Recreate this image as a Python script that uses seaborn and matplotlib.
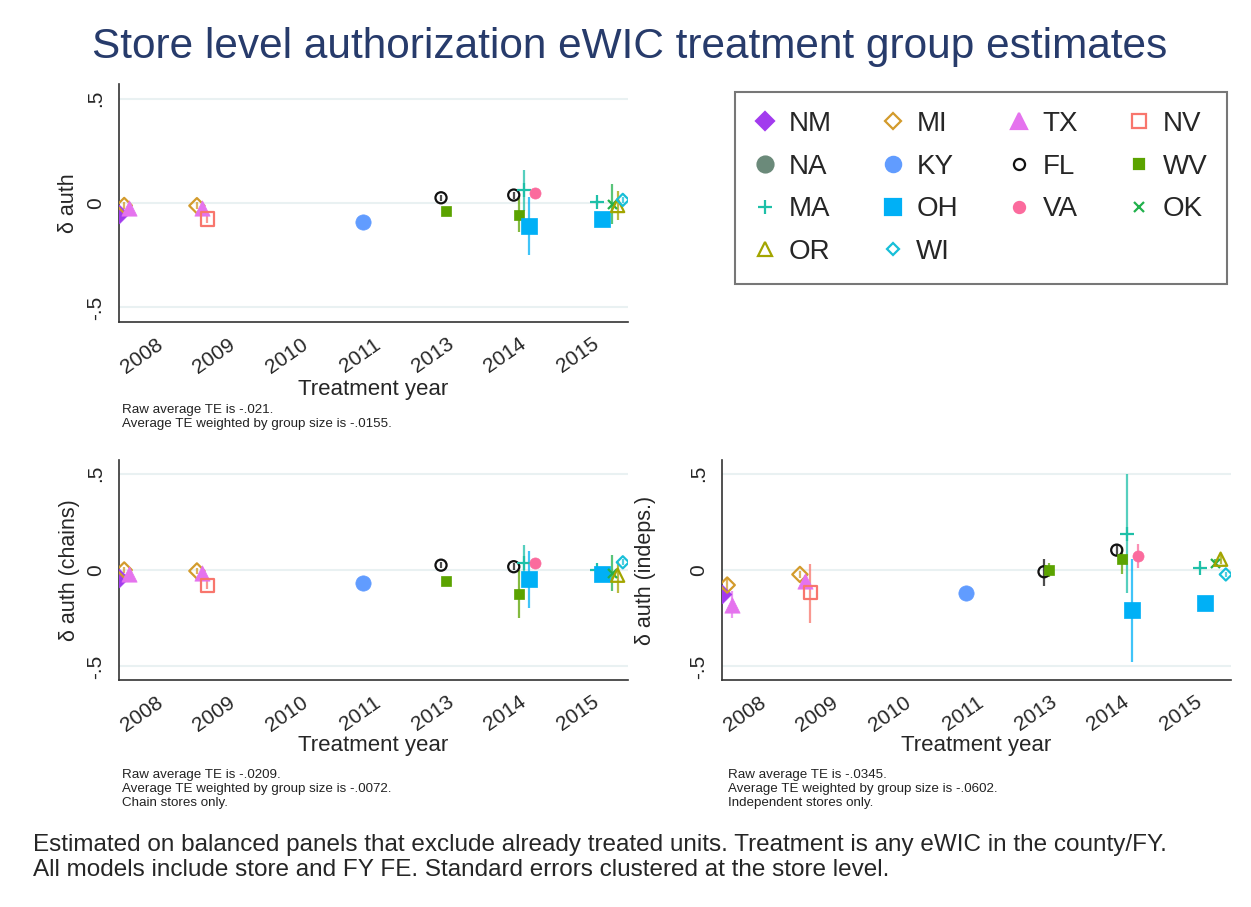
import matplotlib
matplotlib.use("Agg")
import matplotlib.pyplot as plt
from matplotlib.lines import Line2D
import pandas as pd
import seaborn as sns

# treatment year categories and states (legend order, also the dodge order)
years = ["2008", "2009", "2010", "2011", "2013", "2014", "2015"]
states = ["NM", "MI", "TX", "NV", "NA", "KY", "FL", "WV", "MA", "OH", "VA", "OK", "OR", "WI"]

# one row per state x treatment-year group
row_state = ["NM", "MI", "TX", "MI", "TX", "NV", "KY", "FL", "WV", "FL",
             "WV", "MA", "OH", "VA", "MA", "OH", "OK", "OR", "WI"]
row_year = ["2008", "2008", "2008", "2009", "2009", "2009", "2011", "2013", "2013", "2014",
            "2014", "2014", "2014", "2014", "2015", "2015", "2015", "2015", "2015"]

# all stores
all_est = [-0.055, -0.012, -0.024, -0.013, -0.024, -0.077, -0.090, 0.025, -0.037, 0.038,
           -0.058, 0.060, -0.110, 0.050, 0.003, -0.075, -0.005, -0.012, 0.015]
all_lo = [-0.070, -0.030, -0.040, -0.030, -0.040, -0.097, -0.100, 0.010, -0.045, 0.020,
          -0.140, -0.040, -0.250, 0.035, -0.010, -0.090, -0.100, -0.080, 0.000]
all_hi = [-0.040, 0.005, -0.010, 0.005, -0.010, -0.057, -0.080, 0.040, -0.030, 0.055,
          0.030, 0.160, 0.030, 0.065, 0.015, -0.060, 0.090, 0.057, 0.030]

# chain stores
chain_est = [-0.040, 0.000, -0.020, -0.005, -0.015, -0.079, -0.068, 0.025, -0.058, 0.017,
             -0.125, 0.035, -0.045, 0.036, 0.000, -0.020, -0.015, -0.027, 0.040]
chain_lo = [-0.055, -0.015, -0.035, -0.020, -0.030, -0.099, -0.078, 0.010, -0.066, 0.000,
            -0.250, -0.060, -0.198, 0.020, -0.012, -0.035, -0.110, -0.120, 0.025]
chain_hi = [-0.025, 0.015, -0.005, 0.010, 0.000, -0.059, -0.058, 0.040, -0.050, 0.034,
            0.000, 0.130, 0.100, 0.052, 0.012, -0.005, 0.080, 0.040, 0.055]

# independent stores
indep_est = [-0.124, -0.078, -0.180, -0.023, -0.057, -0.118, -0.118, -0.009, 0.000, 0.103,
             0.056, 0.186, -0.209, 0.073, 0.012, -0.171, 0.038, 0.056, -0.023]
indep_lo = [-0.160, -0.110, -0.250, -0.040, -0.090, -0.275, -0.128, -0.084, -0.035, 0.070,
            -0.019, -0.118, -0.476, 0.012, 0.000, -0.185, 0.020, 0.030, -0.035]
indep_hi = [-0.090, -0.045, -0.110, -0.005, -0.025, 0.030, -0.108, 0.056, 0.035, 0.135,
            0.117, 0.497, 0.058, 0.134, 0.024, -0.157, 0.056, 0.080, -0.011]

ylabels = ["δ auth", "δ auth (chains)", "δ auth (indeps.)"]
notes = [["Raw average TE is -.021.", "Average TE weighted by group size is -.0155."],
         ["Raw average TE is -.0209.", "Average TE weighted by group size is -.0072.",
          "Chain stores only."],
         ["Raw average TE is -.0345.", "Average TE weighted by group size is -.0602.",
          "Independent stores only."]]
title = "Store level authorization eWIC treatment group estimates"
footnote = ["Estimated on balanced panels that exclude already treated units. Treatment is any eWIC in the county/FY.",
            "All models include store and FY FE. Standard errors clustered at the store level."]

# marker style per state: (marker, colour, hollow, markersize)
style = {
    "NM": ("D", "#a23bee", False, 9.5),
    "MI": ("D", "#d39b2c", True, 7.8),
    "TX": ("^", "#e573ee", False, 11.0),
    "NV": ("s", "#f8766d", True, 9.5),
    "NA": ("o", "#6b8a7a", False, 11.5),
    "KY": ("o", "#619cff", False, 11.0),
    "FL": ("o", "#111111", True, 8.0),
    "WV": ("s", "#5ba300", False, 7.5),
    "MA": ("+", "#1ec0a8", False, 10.5),
    "OH": ("s", "#00b0f6", False, 11.5),
    "VA": ("o", "#fb6b9d", False, 8.0),
    "OK": ("x", "#22b14c", False, 6.5),
    "OR": ("^", "#a3a500", True, 9.5),
    "WI": ("D", "#17bfd8", True, 6.2),
}

sns.set_style("white")
plt.rcParams["font.family"] = ["Liberation Sans", "DejaVu Sans"]

W, H = 1251, 907
fig = plt.figure(figsize=(W / 100, H / 100), dpi=100)


def rect(l, t, r, b):
    return [l / W, 1 - b / H, (r - l) / W, (b - t) / H]


layout = [
    dict(box=(119, 84, 628, 322), ylab_x=69, xlab_y=390, note_x=122, note_y=410),
    dict(box=(119, 460, 628, 680), ylab_x=69, xlab_y=745, note_x=122, note_y=775),
    dict(box=(722, 460, 1231, 680), ylab_x=645, xlab_y=745, note_x=728, note_y=775),
]
series = [(all_est, all_lo, all_hi), (chain_est, chain_lo, chain_hi),
          (indep_est, indep_lo, indep_hi)]

for k, (lay, (est, lo, hi)) in enumerate(zip(layout, series)):
    l, t, r, b = lay["box"]
    ax = fig.add_axes(rect(l, t, r, b))
    df = pd.DataFrame({"state": row_state, "year": row_year, "est": est, "lo": lo, "hi": hi})
    # dodge each state inside its year group
    df["x"] = [years.index(y) + (states.index(s) - 7) / 14 for s, y in zip(df.state, df.year)]

    for s in states:
        sub = df[df.state == s]
        if sub.empty:
            continue
        m, c, hollow, ms = style[s]
        ax.vlines(sub.x, sub.lo, sub.hi, color=c, lw=1.6, alpha=0.75, zorder=2)
        kw = dict(marker=m, s=ms ** 2, ax=ax, zorder=3, legend=False)
        if m in "+x":
            kw.update(color=c, edgecolor=None, linewidth=1.6)
        elif hollow:
            kw.update(color=c, facecolor="none", edgecolor=c, linewidth=1.6)
        else:
            kw.update(color=c, edgecolor=c, linewidth=0.5)
        sns.scatterplot(data=sub, x="x", y="est", **kw)

    ax.set_xlim(-0.5, 6.5)
    ax.set_ylim(-0.57, 0.57)
    ax.set_xticks(range(len(years)))
    ax.set_xticklabels(years, rotation=35, ha="right", va="top", rotation_mode="anchor", fontsize=15)
    ax.set_yticks([-0.5, 0, 0.5])
    ax.set_yticklabels(["-.5", "0", ".5"], rotation=90, va="center", fontsize=15)
    ax.tick_params(axis="both", direction="out", length=7, width=1, color="#333333", pad=3)
    ax.tick_params(axis="x", pad=2)
    for y in [-0.5, 0, 0.5]:
        ax.axhline(y, color="#e9f1f2", lw=1.5, zorder=0)
    for side in ["top", "right"]:
        ax.spines[side].set_visible(False)
    for side in ["left", "bottom"]:
        ax.spines[side].set_color("#333333")
        ax.spines[side].set_linewidth(1.2)
    ax.set_xlabel("")
    ax.set_ylabel("")

    fig.text(((l + r) / 2) / W, 1 - lay["xlab_y"] / H, "Treatment year",
             ha="center", va="center", fontsize=16)
    fig.text(lay["ylab_x"] / W, 1 - ((t + b) / 2) / H, ylabels[k],
             ha="center", va="center", rotation=90, fontsize=15.5)
    for i, line in enumerate(notes[k]):
        fig.text(lay["note_x"] / W, 1 - (lay["note_y"] + 14 * i) / H, line,
                 ha="left", va="center", fontsize=9.6, color="#222222")

fig.text(630 / W, 1 - 47 / H, title, ha="center", va="center", fontsize=30.5, color="#273b6b")
for i, line in enumerate(footnote):
    fig.text(33 / W, 1 - (845 + 25 * i) / H, line, ha="left", va="center", fontsize=17.5)

# legend: matplotlib fills column-major, so reorder to keep the row layout
order = ["NM", "NA", "MA", "OR", "MI", "KY", "OH", "WI", "TX", "FL", "VA", "NV", "WV", "OK"]
handles = []
for s in order:
    m, c, hollow, ms = style[s]
    handles.append(Line2D([], [], linestyle="none", marker=m, markersize=ms, color=c,
                          markerfacecolor="none" if hollow else c, markeredgecolor=c,
                          markeredgewidth=1.6))
leg = fig.legend(handles, order, ncol=4, loc="upper left",
                 bbox_to_anchor=(735 / W, 1 - 92 / H), borderaxespad=0, fontsize=20,
                 frameon=True, fancybox=False, edgecolor="#555555", handletextpad=0.45,
                 columnspacing=1.8, labelspacing=0.6, borderpad=0.68, handlelength=0.8)
leg.get_frame().set_linewidth(1.5)

fig.savefig("out.png", dpi=100, facecolor="white")
